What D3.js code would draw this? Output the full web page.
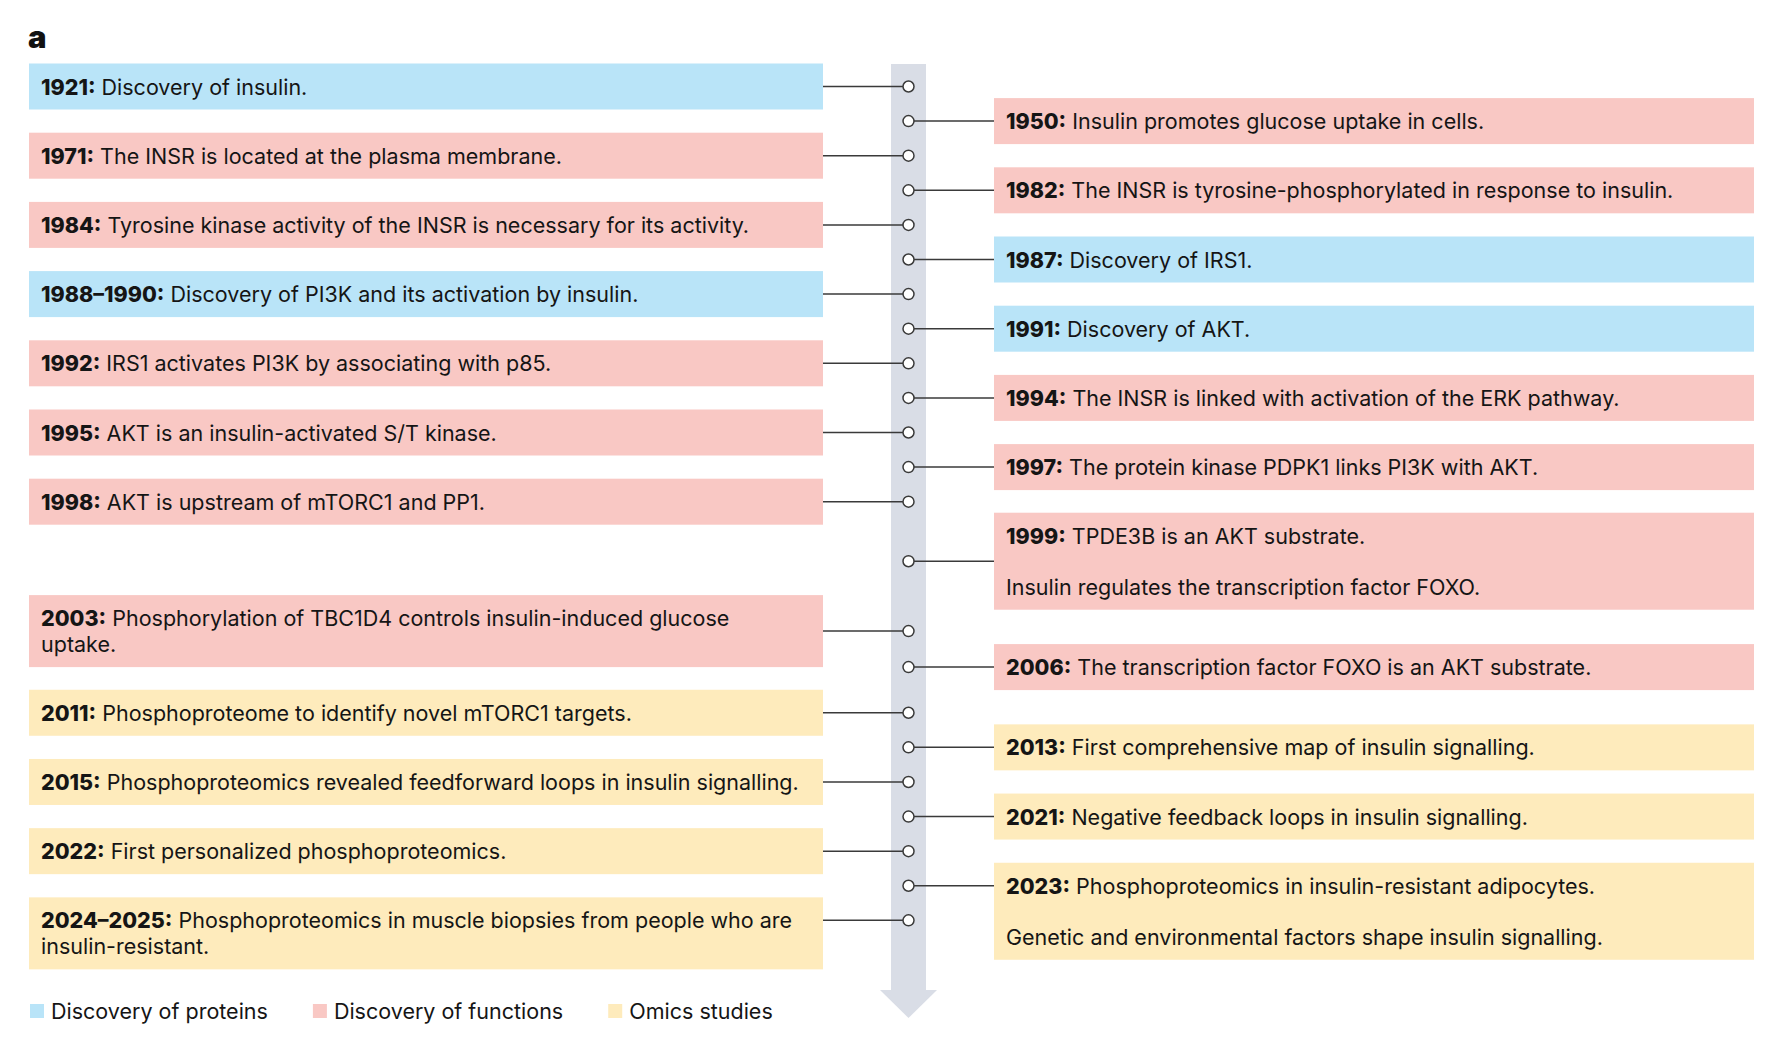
<!DOCTYPE html>
<html>
<head>
<meta charset="utf-8">
<script src="https://cdn.jsdelivr.net/npm/d3@7"></script>
<style>
  body { margin: 0; background: #fff; }
  svg { display: block; font-family: Inter, "Noto Sans", sans-serif; }
</style>
</head>
<body>
<svg width="1784" height="1045"></svg>
<script>
// timeline events, ordered down the axis
const years = ["1921", "1950", "1971", "1982", "1984", "1987", "1988–1990", "1991",
  "1992", "1994", "1995", "1997", "1998", "1999", "2003", "2006", "2011", "2013",
  "2015", "2021", "2022", "2023", "2024–2025"];

// each entry: paragraphs, each paragraph a list of lines
const descriptions = [
  [["Discovery of insulin."]],
  [["Insulin promotes glucose uptake in cells."]],
  [["The INSR is located at the plasma membrane."]],
  [["The INSR is tyrosine-phosphorylated in response to insulin."]],
  [["Tyrosine kinase activity of the INSR is necessary for its activity."]],
  [["Discovery of IRS1."]],
  [["Discovery of PI3K and its activation by insulin."]],
  [["Discovery of AKT."]],
  [["IRS1 activates PI3K by associating with p85."]],
  [["The INSR is linked with activation of the ERK pathway."]],
  [["AKT is an insulin-activated S/T kinase."]],
  [["The protein kinase PDPK1 links PI3K with AKT."]],
  [["AKT is upstream of mTORC1 and PP1."]],
  [["TPDE3B is an AKT substrate."], ["Insulin regulates the transcription factor FOXO."]],
  [["Phosphorylation of TBC1D4 controls insulin-induced glucose", "uptake."]],
  [["The transcription factor FOXO is an AKT substrate."]],
  [["Phosphoproteome to identify novel mTORC1 targets."]],
  [["First comprehensive map of insulin signalling."]],
  [["Phosphoproteomics revealed feedforward loops in insulin signalling."]],
  [["Negative feedback loops in insulin signalling."]],
  [["First personalized phosphoproteomics."]],
  [["Phosphoproteomics in insulin-resistant adipocytes."], ["Genetic and environmental factors shape insulin signalling."]],
  [["Phosphoproteomics in muscle biopsies from people who are", "insulin-resistant."]]
];

const categories = ["proteins", "functions", "functions", "functions", "functions", "proteins",
  "proteins", "proteins", "functions", "functions", "functions", "functions", "functions",
  "functions", "functions", "functions", "omics", "omics", "omics", "omics", "omics",
  "omics", "omics"];

const sides = ["L", "R", "L", "R", "L", "R", "L", "R", "L", "R", "L", "R", "L",
  "R", "L", "R", "L", "R", "L", "R", "L", "R", "L"];

// position of each marker along the timeline (row units)
const slots = [0, 1, 2, 3, 4, 5, 6, 7, 8, 9, 10, 11, 12, 13.72, 15.74, 16.78,
  18.1, 19.1, 20.1, 21.1, 22.1, 23.1, 24.1];

// where the box hangs from its marker: first line or middle of box
const anchors = ["first", "first", "first", "first", "first", "first", "first", "first",
  "first", "first", "first", "first", "first", "mid", "mid", "first", "first", "first",
  "first", "first", "first", "first", "first"];

const legendKeys = ["proteins", "functions", "omics"];
const legendLabels = ["Discovery of proteins", "Discovery of functions", "Omics studies"];

const events = years.map((yr, i) => ({
  year: yr, paras: descriptions[i], cat: categories[i], side: sides[i],
  slot: slots[i], anchor: anchors[i]
}));

const svg = d3.select("svg");

const y = d3.scaleLinear().domain([0, 24]).range([86.5, 916.9]);
const color = d3.scaleOrdinal()
  .domain(legendKeys)
  .range(["#b9e4f8", "#f9c8c4", "#feebbc"]);

const axisX = 908.5;
const boxX = { L: 29, R: 994 };
const boxW = { L: 794, R: 760 };
const lineH = 26, paraH = 51, baseH = 46;
const fs = 21.5;

// panel letter
svg.append("text")
  .attr("x", 28).attr("y", 48)
  .attr("font-size", 31).attr("font-weight", 900)
  .attr("fill", "#111")
  .text("a");

// timeline bar with arrow head
svg.append("rect")
  .attr("x", axisX - 17.5).attr("y", 64)
  .attr("width", 35).attr("height", 990 - 64)
  .attr("fill", "#d9dde6");
svg.append("path")
  .attr("d", `M${axisX - 28.5},990 L${axisX + 28.5},990 L${axisX},1018 Z`)
  .attr("fill", "#d9dde6");

events.forEach((e) => {
  let extra = 0;
  e.paras.forEach((p, pi) => { extra += (pi > 0 ? paraH : 0) + (p.length - 1) * lineH; });
  e.h = baseH + extra;
  e.cy = y(e.slot);
  e.top = e.anchor === "mid" ? e.cy - e.h / 2 : e.cy - 23;
});

const g = svg.append("g").attr("class", "events");

const ev = g.selectAll(".event")
  .data(events)
  .enter()
  .append("g")
    .attr("class", "event");

ev.append("rect")
  .attr("x", (d) => boxX[d.side])
  .attr("y", (d) => d.top)
  .attr("width", (d) => boxW[d.side])
  .attr("height", (d) => d.h)
  .attr("fill", (d) => color(d.cat));

ev.append("line")
  .attr("x1", (d) => d.side === "L" ? boxX.L + boxW.L : axisX + 5.5)
  .attr("x2", (d) => d.side === "L" ? axisX - 5.5 : boxX.R)
  .attr("y1", (d) => d.cy)
  .attr("y2", (d) => d.cy)
  .attr("stroke", "#3a3a3a")
  .attr("stroke-width", 1.5);

ev.append("circle")
  .attr("cx", axisX)
  .attr("cy", (d) => d.cy)
  .attr("r", 5.5)
  .attr("fill", "#fff")
  .attr("stroke", "#3a3a3a")
  .attr("stroke-width", 1.5);

ev.each(function (d) {
  const sel = d3.select(this);
  const tx = boxX[d.side] + 12;
  let by = d.top + 31;
  d.paras.forEach((p, pi) => {
    if (pi > 0) by += paraH;
    p.forEach((ln, li) => {
      if (li > 0) by += lineH;
      const t = sel.append("text")
        .attr("x", tx).attr("y", by)
        .attr("font-size", fs)
        .attr("fill", "#151515");
      if (pi === 0 && li === 0) {
        t.append("tspan").attr("font-weight", 800).text(d.year + ":");
        t.append("tspan").text(" " + ln);
      } else {
        t.text(ln);
      }
    });
  });
});

// legend
const legend = svg.append("g").attr("class", "legend");
let lx = 30;
legendKeys.forEach((k, i) => {
  legend.append("rect")
    .attr("x", lx).attr("y", 1004)
    .attr("width", 14).attr("height", 14)
    .attr("fill", color(k));
  const t = legend.append("text")
    .attr("x", lx + 21).attr("y", 1019)
    .attr("font-size", fs)
    .attr("fill", "#151515")
    .text(legendLabels[i]);
  lx += 21 + t.node().getComputedTextLength() + 45;
});
</script>
</body>
</html>
